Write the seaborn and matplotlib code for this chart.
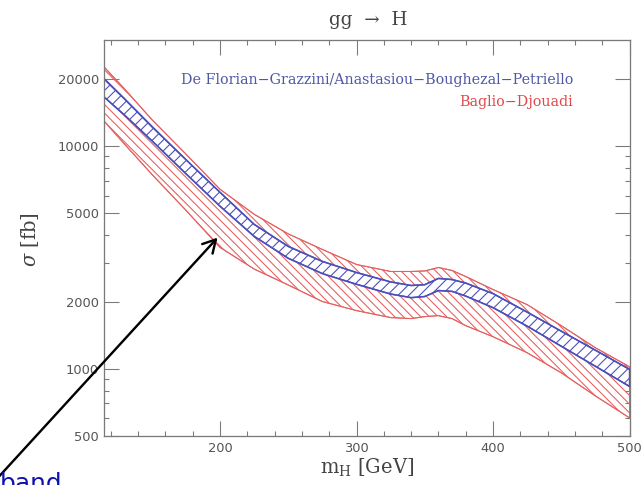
import numpy as np
import pandas as pd
import matplotlib
matplotlib.use("Agg")
import matplotlib.pyplot as plt
from matplotlib.ticker import FixedLocator, NullFormatter, FixedFormatter
import seaborn as sns

# ---------------- data ----------------
m_H = [115, 130, 150, 175, 200, 225, 250, 275, 300, 325, 340, 350, 360, 370,
       380, 400, 425, 450, 475, 500]

# De Florian-Grazzini / Anastasiou-Boughezal-Petriello band (fb)
dfg_upper = [20070, 16320, 12260, 8710, 6210, 4460, 3550, 3040, 2710, 2460,
             2370, 2390, 2550, 2520, 2430, 2180, 1800, 1478, 1214, 996]
dfg_lower = [16650, 13810, 10600, 7530, 5380, 3940, 3140, 2680, 2400, 2170,
             2090, 2115, 2250, 2230, 2125, 1885, 1557, 1265, 1028, 835]

# Baglio-Djouadi band (fb)
bd_upper = [22730, 18100, 13190, 9220, 6410, 4950, 4040, 3440, 2945, 2740,
            2740, 2754, 2855, 2768, 2601, 2274, 1945, 1565, 1245, 1023]
bd_lower = [12980, 10230, 7490, 5160, 3515, 2810, 2382, 2008, 1828, 1701,
            1683, 1718, 1735, 1683, 1565, 1396, 1183, 961, 757, 603]

y_ticks = [500, 1000, 2000, 5000, 10000, 20000]
y_ticklabels = ["500", "1000", "2000", "5000", "10000", "20000"]
y_minor = [600, 700, 800, 900, 3000, 4000, 6000, 7000, 8000, 9000]
x_ticks = [200, 300, 400, 500]
x_minor = [120, 140, 160, 180, 220, 240, 260, 280, 320, 340, 360, 380,
           420, 440, 460, 480]

title_text = "gg  →  H"
label_dfg = "De Florian\u2212Grazzini/Anastasiou\u2212Boughezal\u2212Petriello"
label_bd = "Baglio\u2212Djouadi"
note_text = "band"

# ---------------- style ----------------
sns.set_theme(style="ticks")
DPI = 130
S = 78 / DPI  # sizes below were tuned for 78 dpi
plt.rcParams["font.family"] = ["DejaVu Sans"]
plt.rcParams["mathtext.fontset"] = "dejavuserif"
plt.rcParams["hatch.linewidth"] = 1.0 * S

RED = "#e66060"
BLUE = "#4a4fba"
GRAY = "#7a7a7a"

fig = plt.figure(figsize=(642 / DPI, 485 / DPI), dpi=DPI)
ax = fig.add_axes([104 / 642, 1 - 436 / 485, (629.5 - 104) / 642, (436 - 40) / 485])

df = pd.DataFrame({"m": m_H, "bd_up": bd_upper, "bd_lo": bd_lower,
                   "dfg_up": dfg_upper, "dfg_lo": dfg_lower})
long = df.melt(id_vars="m", var_name="edge", value_name="sigma")

# Baglio-Djouadi hatched band
ax.fill_between(df["m"], df["bd_lo"], df["bd_up"], facecolor="none",
                edgecolor=RED, hatch="\\" * 5, linewidth=0.9 * S, zorder=1)
sns.lineplot(data=long[long["edge"].isin(["bd_up", "bd_lo"])], x="m", y="sigma",
             units="edge", estimator=None, color=RED, lw=1.0 * S, ax=ax,
             legend=False, zorder=1.5)

# De Florian-Grazzini band (white face, blue hatch)
ax.fill_between(df["m"], df["dfg_lo"], df["dfg_up"], facecolor="white",
                edgecolor=BLUE, hatch="////", linewidth=1.3 * S, zorder=2)
sns.lineplot(data=long[long["edge"].isin(["dfg_up", "dfg_lo"])], x="m", y="sigma",
             units="edge", estimator=None, color=BLUE, lw=1.4 * S, ax=ax,
             legend=False, zorder=2.5)

ax.set_yscale("log")
ax.set_xlim(115, 500)
ax.set_ylim(500, 30000)

ax.yaxis.set_major_locator(FixedLocator(y_ticks))
ax.yaxis.set_major_formatter(FixedFormatter(y_ticklabels))
ax.yaxis.set_minor_locator(FixedLocator(y_minor))
ax.yaxis.set_minor_formatter(NullFormatter())
ax.xaxis.set_major_locator(FixedLocator(x_ticks))
ax.xaxis.set_minor_locator(FixedLocator(x_minor))

ax.tick_params(which="both", direction="in", top=True, right=True, color=GRAY,
               labelcolor="#555555", labelsize=12 * S)
ax.tick_params(which="major", length=14 * S, width=1.0 * S)
ax.tick_params(which="minor", length=4.5 * S, width=1.0 * S)
ax.tick_params(axis="y", which="major", pad=4.5 * S)
ax.tick_params(axis="x", which="major", pad=6 * S)
for s in ax.spines.values():
    s.set_color(GRAY)
    s.set_linewidth(1.2 * S)

ax.set_xlabel(r"m$_{\rm H}$ [GeV]", fontsize=18 * S, family="DejaVu Serif",
              color="#444444", va="center")
ax.xaxis.set_label_coords(0.5, (436 - 468) / 396)
ax.set_ylabel(r"$\sigma$ [fb]", fontsize=18 * S, family="DejaVu Serif",
              color="#444444", va="center")
ax.yaxis.set_label_coords((30 - 104) / 525.5, (436 - 240) / 396)

fig.text(368 / 642, 1 - 20 / 485, title_text, ha="center", va="center",
         fontsize=17 * S, family="DejaVu Serif", color="#444444")

x_right = (573 - 104) / 525.5
ax.text(x_right, 1 - (80 - 40) / 396, label_dfg, transform=ax.transAxes,
        ha="right", va="center", fontsize=13.2 * S, family="DejaVu Serif",
        color="#4f57a8")
ax.text(x_right, 1 - (102 - 40) / 396, label_bd, transform=ax.transAxes,
        ha="right", va="center", fontsize=13.2 * S, family="DejaVu Serif",
        color="#e04848")

# annotation arrow and cut-off label
fig.add_artist(matplotlib.patches.FancyArrowPatch(
    posA=(-6 / 642, 1 - 482 / 485), posB=(220 / 642, 1 - 235 / 485),
    transform=fig.transFigure, arrowstyle="->,head_length=9,head_width=5",
    color="black", lw=2.2 * S, mutation_scale=1.3 * S))
fig.text(0.0, 1 - 472 / 485, note_text, ha="left", va="top", fontsize=23 * S,
         color="#1010b0", family="DejaVu Sans")

fig.savefig("out.png", dpi=DPI)
